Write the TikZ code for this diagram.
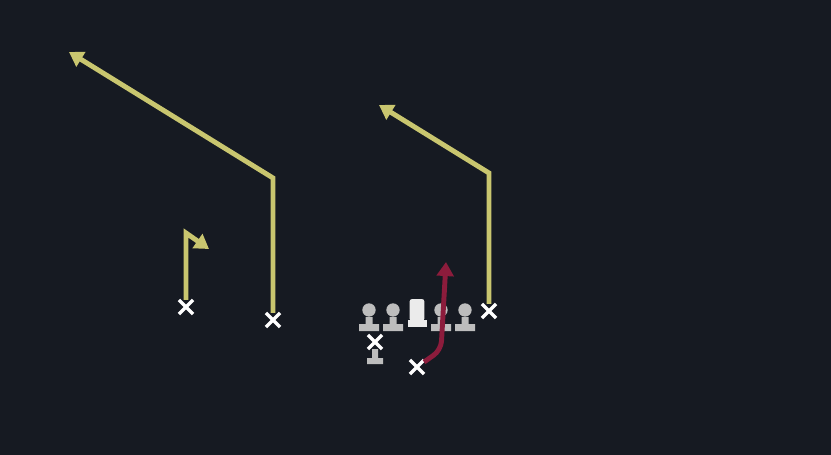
\documentclass[tikz,border=0pt]{standalone}
\usepackage{tikz, xcolor}
\usetikzlibrary{arrows.meta, shapes.misc}

\definecolor{field}{HTML}{161A22}
\definecolor{route}{HTML}{C9C66F}
\definecolor{hot}{HTML}{8C1C3C}
\definecolor{olgrey}{HTML}{BDBDBD}

\begin{document}
\begin{tikzpicture}[x=0.02cm, y=-0.02cm, >={Triangle[length=8pt, width=9.5pt]},
    player/.style={cross out, draw=white, line width=2pt, minimum size=6pt, inner sep=0pt},
    lineman/.style={circle, fill=olgrey, minimum size=7.6pt, inner sep=0pt},
    snapper/.style={rectangle, rounded corners=1.5pt, fill=white!92!black, minimum width=8.5pt, minimum height=12.5pt, inner sep=0pt},
    run/.style={->, route, line width=2.8pt},
    hotrun/.style={->, hot, line width=2.8pt, rounded corners=5pt}]

    \fill[field] (0,0) rectangle (831,455);
    \useasboundingbox (0,0) rectangle (831,455);

    \node[player] (wr1) at (186,307) {};
    \node[player] (wr2) at (273,320) {};
    \node[player] (te) at (489,311) {};
    \node[player] (qb) at (375,342) {};
    \node[player] (rb) at (417,367) {};

    \coordinate (wr1brk) at (186,233);
    \coordinate (wr1end) at (209,249);
    \coordinate (wr2brk) at (273,178);
    \coordinate (wr2end) at (69,52);
    \coordinate (tebrk) at (489,173);
    \coordinate (teend) at (379,105);
    \coordinate (rbbrk) at (441,350);
    \coordinate (rbend) at (446,262);

    % routes
    \draw[run] (wr1) -- (wr1brk) -- (wr1end);
    \draw[run] (wr2) -- (wr2brk) -- (wr2end);
    \draw[run] (te) -- (tebrk) -- (teend);

    % line
    \node[lineman] (lt) at (369,310) {};
    \node[lineman] (lg) at (393,310) {};
    \node[snapper] (c) at (417,310) {};
    \node[lineman] (rg) at (441,310) {};
    \node[lineman] (rt) at (465,310) {};
    \foreach \ol in {lt, lg, rg, rt}
        \fill[olgrey] (\ol.south) ++(-3.5,0) rectangle ++(7,7) (\ol.south) ++(-10,7) rectangle ++(20,7);
    \fill[white!92!black] (c.south) ++(-9.5,-1) rectangle ++(19,7);
    \fill[olgrey] (qb.south) ++(-3,0) rectangle ++(6,10) (qb.south) ++(-8,9) rectangle ++(16,6);

    \draw[hotrun] (rb) -- (rbbrk) -- (rbend);
\end{tikzpicture}
\end{document}
